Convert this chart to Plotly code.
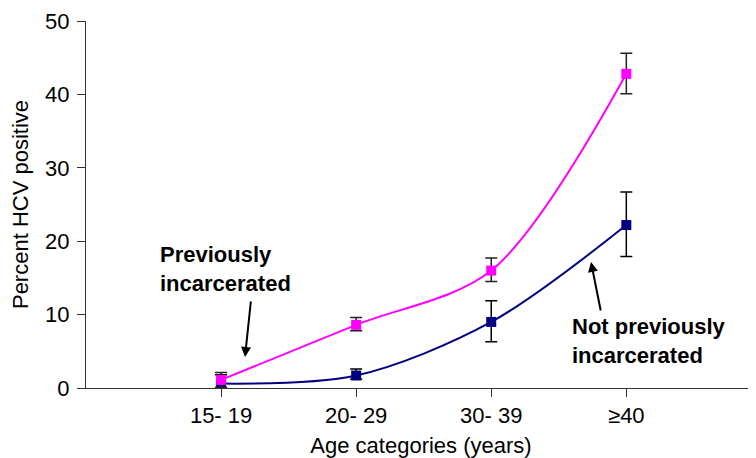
import plotly.graph_objects as go

categories = ["15- 19", "20- 29", "30- 39", "≥40"]

prev_inc = [1.1, 8.6, 16.0, 42.8]
prev_inc_plus = [1.0, 1.0, 1.7, 2.8]
prev_inc_minus = [1.0, 0.8, 1.5, 2.7]

not_prev = [0.6, 1.7, 9.0, 22.2]
not_prev_plus = [1.2, 0.9, 2.9, 4.5]
not_prev_minus = [0.6, 0.5, 2.7, 4.3]

y_ticks = [0, 10, 20, 30, 40, 50]

FONT = "Liberation Sans, Arial, Helvetica, sans-serif"
FS = 22

fig = go.Figure()

fig.add_trace(go.Scatter(
    x=categories, y=not_prev, mode="lines+markers",
    line=dict(color="#000080", width=2, shape="spline", smoothing=0.9),
    marker=dict(symbol="square", size=10, color="#000080"),
    error_y=dict(type="data", symmetric=False, array=not_prev_plus,
                 arrayminus=not_prev_minus, color="black", thickness=1.5, width=6),
    showlegend=False,
))
fig.add_trace(go.Scatter(
    x=categories, y=prev_inc, mode="lines+markers",
    line=dict(color="#FF00FF", width=2, shape="spline", smoothing=0.9),
    marker=dict(symbol="square", size=10, color="#FF00FF"),
    error_y=dict(type="data", symmetric=False, array=prev_inc_plus,
                 arrayminus=prev_inc_minus, color="#222222", thickness=1.5, width=6),
    showlegend=False,
))

# page has an 8px body margin; figure coordinates are offset by it
OFF = 8
W, H = 756 - OFF, 458 - OFF
L, T, B, R = 86 - OFF, 21 - OFF, 70, 0
pw, ph = W - L - R, H - T - B

def px(xp):
    return (xp - OFF - L) / pw

def py(yp):
    return (H - B - (yp - OFF)) / ph

annotations = [
    dict(text="<b>Previously<br>incarcerated</b>", x=px(158), y=py(240),
         xref="paper", yref="paper", xanchor="left", yanchor="top",
         align="left", showarrow=False, font=dict(size=FS, color="black", family=FONT)),
    dict(text="<b>Not previously<br>incarcerated</b>", x=px(570), y=py(312),
         xref="paper", yref="paper", xanchor="left", yanchor="top",
         align="left", showarrow=False, font=dict(size=FS, color="black", family=FONT)),
    dict(text="", x=px(245), y=py(357), xref="paper", yref="paper",
         ax=6, ay=-57, showarrow=True, arrowhead=2, arrowsize=1, arrowwidth=2,
         arrowcolor="black"),
    dict(text="", x=px(591), y=py(262), xref="paper", yref="paper",
         ax=10, ay=50, showarrow=True, arrowhead=2, arrowsize=1, arrowwidth=2,
         arrowcolor="black"),
]

fig.update_layout(
    width=W, height=H,
    margin=dict(l=L, r=R, t=T, b=B, pad=0, autoexpand=False),
    paper_bgcolor="white", plot_bgcolor="white",
    font=dict(family=FONT, size=FS, color="black"),
    annotations=annotations,
    xaxis=dict(
        type="category", range=[-1, 3.96], automargin=False,
        showgrid=False, zeroline=False,
        showline=True, linecolor="#333333", linewidth=1,
        ticks="outside", ticklen=8, tickcolor="#333333",
        tickfont=dict(size=FS),
        title=dict(text="Age categories (years)", font=dict(size=FS), standoff=10),
    ),
    yaxis=dict(
        range=[0, 50], tickvals=y_ticks, automargin=False,
        showgrid=False, zeroline=False,
        showline=True, linecolor="#333333", linewidth=1,
        ticks="outside", ticklen=8, tickcolor="#333333",
        ticklabelstandoff=3,
        tickfont=dict(size=FS),
        title=dict(text="Percent HCV positive", font=dict(size=FS), standoff=14),
    ),
)

fig.write_html("out.html")
